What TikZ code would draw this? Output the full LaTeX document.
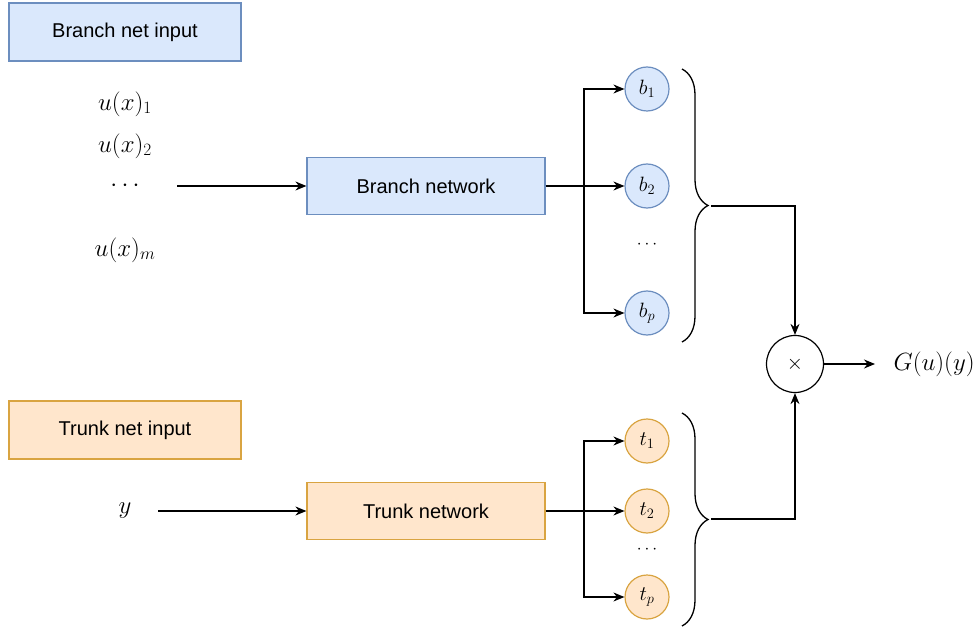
\documentclass[tikz,border=0pt]{standalone}
\usepackage{fontspec}
\newfontfamily\boxfont{Liberation Sans}
\usetikzlibrary{arrows.meta,positioning,decorations.pathreplacing}
\definecolor{branchfill}{HTML}{DAE8FC}
\definecolor{branchline}{HTML}{6C8EBF}
\definecolor{trunkfill}{HTML}{FFE6CC}
\definecolor{trunkline}{HTML}{D9A441}

\tikzset{
  inbox/.style={draw,line width=1.2pt,minimum width=232pt,minimum height=58pt,inner sep=0pt,font=\boxfont\fontsize{20}{24}\selectfont},
  netbox/.style={inbox,minimum width=238pt,minimum height=57pt},
  unit/.style={draw,circle,line width=1.2pt,minimum size=44pt,inner sep=0pt,font=\fontsize{20}{24}\selectfont},
  bigmath/.style={font=\fontsize{23.5}{28}\selectfont},
  arr/.style={-{Stealth[length=11pt,width=9pt]},line width=1.3pt},
  curly/.style={decorate,decoration={brace,amplitude=26pt},line width=1.3pt}
}

\begin{document}
\begin{tikzpicture}[x=1pt,y=-1pt]
\useasboundingbox (0,0) rectangle (974,628);

% inputs
\node[inbox,fill=branchfill,draw=branchline] (bin) at (125,32) {Branch net input};
\node[bigmath] (u1) at (125,104) {$u(x)_1$};
\node[bigmath] (u2) at (125,146) {$u(x)_2$};
\node[bigmath] (udots) at (125,186) {$\cdots$};
\node[bigmath] (um) at (125,250) {$u(x)_m$};

\node[inbox,fill=trunkfill,draw=trunkline] (tin) at (125,430) {Trunk net input};
\node[bigmath] (yin) at (125,511) {$y$};

% networks
\node[netbox,fill=branchfill,draw=branchline] (bnet) at (426,186) {Branch network};
\node[netbox,fill=trunkfill,draw=trunkline] (tnet) at (426,511) {Trunk network};

% branch outputs
\node[unit,fill=branchfill,draw=branchline] (b1) at (647,89) {$b_1$};
\node[unit,fill=branchfill,draw=branchline] (b2) at (647,186) {$b_2$};
\node[font=\fontsize{19}{22}\selectfont] (bdots) at (647,245) {$\cdots$};
\node[unit,fill=branchfill,draw=branchline] (bp) at (647,313) {$b_p$};

% trunk outputs
\node[unit,fill=trunkfill,draw=trunkline] (t1) at (647,441) {$t_1$};
\node[unit,fill=trunkfill,draw=trunkline] (t2) at (647,511) {$t_2$};
\node[font=\fontsize{19}{22}\selectfont] (tdots) at (647,550) {$\cdots$};
\node[unit,fill=trunkfill,draw=trunkline] (tp) at (647,597) {$t_p$};

% product
\node[draw,circle,line width=1.2pt,minimum size=57pt,inner sep=0pt,font=\fontsize{20}{24}\selectfont] (mult) at (795,364) {$\times$};
\node[bigmath,anchor=west] (gout) at (890,364) {$G(u)(y)$};

\coordinate (bsplit) at (584,186);
\coordinate (tsplit) at (584,511);
\coordinate (btop) at (682,69);
\coordinate (bbot) at (682,342);
\coordinate (bmid) at (711,206);
\coordinate (ttop) at (682,413);
\coordinate (tbot) at (682,626);
\coordinate (tmid) at (711,519);

\draw[arr] (udots.center) ++(52,0) -- (bnet.west);
\draw[arr] (yin.center) ++(33,0) -- (tnet.west);

\draw[arr] (bnet.east) -- (b2);
\draw[arr] (bsplit) |- (b1);
\draw[arr] (bsplit) |- (bp);
\draw[arr] (tnet.east) -- (t2);
\draw[arr] (tsplit) |- (t1);
\draw[arr] (tsplit) |- (tp);

\draw[curly] (btop) -- (bbot);
\draw[curly] (ttop) -- (tbot);
\draw[arr] (bmid) -| (mult.north);
\draw[arr] (tmid) -| (mult.south);
\draw[arr,shorten >=15pt] (mult) -- (gout.west);
\end{tikzpicture}
\end{document}
